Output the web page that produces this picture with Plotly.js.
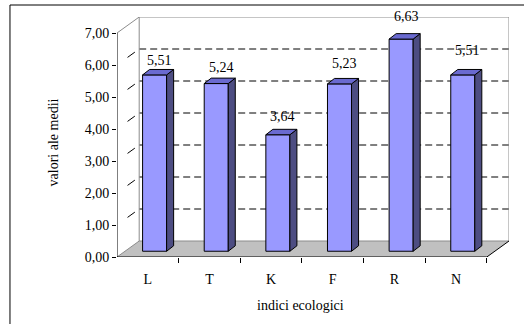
<!DOCTYPE html>
<html><head><meta charset="utf-8">
<script src="https://cdn.plot.ly/plotly-3.0.1.min.js"></script>
<style>html,body{margin:0;padding:0;background:#fff;}#chart{width:524px;height:324px;}</style>
</head><body><div id="chart"></div>
<script>
// ---- data ----
const categories = ['L', 'T', 'K', 'F', 'R', 'N'];
const values = [5.51, 5.24, 3.64, 5.23, 6.63, 5.51];
const valueLabels = ['5,51', '5,24', '3,64', '5,23', '6,63', '5,51'];
const yTickValues = [0, 1, 2, 3, 4, 5, 6, 7];
const yTickLabels = ['0,00', '1,00', '2,00', '3,00', '4,00', '5,00', '6,00', '7,00'];
const xTitle = 'indici ecologici';
const yTitle = 'valori ale medii';

// ---- geometry (pseudo-3D) ----
const DX = 0.36, DY = 0.5;            // wall depth in axis units
const BX = 0.11, BY = 0.18;           // bar front offset into the floor
const BW = 0.39, BDX = 0.114, BDY = 0.17; // bar width and depth
const FONT = '"Liberation Serif", "Times New Roman", serif';
const YMAX = yTickValues[yTickValues.length - 1];
const idx = categories.map((_, i) => i);
const X0 = -0.5, X1 = categories.length - 0.5;

// side faces and top faces
const sx = [], sy = [], tx = [], ty = [];
values.forEach((v, i) => {
  const l = i + BX - BW / 2, r = i + BX + BW / 2, t = BY + v;
  sx.push(r, r + BDX, r + BDX, r, r, null);
  sy.push(BY, BY + BDY, t + BDY, t, BY, null);
  tx.push(l, r, r + BDX, l + BDX, l, null);
  ty.push(t, t, t + BDY, t + BDY, t, null);
});

const traces = [
  {type: 'bar', x: idx.map(i => i + BX), y: values, base: values.map(() => BY), width: BW,
   marker: {color: '#9999ff', line: {color: '#000', width: 1}}, hoverinfo: 'skip', showlegend: false},
  {type: 'scatter', mode: 'lines', x: sx, y: sy, fill: 'toself', fillcolor: '#4d4d82',
   line: {color: '#000', width: 1}, hoverinfo: 'skip', showlegend: false},
  {type: 'scatter', mode: 'lines', x: tx, y: ty, fill: 'toself', fillcolor: '#6a6ad0',
   line: {color: '#000', width: 1}, hoverinfo: 'skip', showlegend: false},
  {type: 'scatter', mode: 'markers', x: idx, y: values, xaxis: 'x2', marker: {opacity: 0},
   hoverinfo: 'skip', showlegend: false}
];

const gray = '#8c8c8c';
const shapes = [];
const ln = (x0, y0, x1, y1, color, layer, dash) => shapes.push({type: 'line', xref: 'x', yref: 'y',
  x0, y0, x1, y1, layer: layer || 'above', line: {color, width: 1, dash: dash || 'solid'}});
// floor
shapes.push({type: 'path', xref: 'x', yref: 'y', layer: 'below',
  path: `M${X0},0 L${X1},0 L${X1 + DX},${DY} L${X0 + DX},${DY} Z`,
  fillcolor: '#c0c0c0', line: {width: 0}});
// back-wall gridlines
yTickValues.slice(1, -1).forEach(k => {
  ln(X0 + DX, k + DY, X1 + DX, k + DY, '#000', 'below', '7px,4px');
  ln(X0, k, X0 + DX, k + DY, '#000', 'below', '0px,13px,9px,30px');
});
// walls
ln(X0 + DX, DY, X0 + DX, YMAX + DY, gray, 'below');
ln(X0 + DX, YMAX + DY, X1 + DX, YMAX + DY, gray, 'below');
ln(X1 + DX, DY, X1 + DX, YMAX + DY, gray, 'below');
ln(X0, YMAX, X0 + DX, YMAX + DY, gray, 'below');
ln(X0 + DX, DY, X1 + DX, DY, gray, 'below');
ln(X0, 0, X0 + DX, DY, gray, 'below');
// front axes
ln(X0, 0, X1, 0, '#000');
ln(X1, 0, X1 + DX, DY, '#000');
ln(X0, 0, X0, YMAX, '#000');
// outer frame (top and left)
shapes.push({type: 'line', xref: 'paper', yref: 'paper', x0: -0.273, y0: 1.05, x1: 1.1, y1: 1.05, line: {color: '#000', width: 1}});
shapes.push({type: 'line', xref: 'paper', yref: 'paper', x0: -0.273, y0: 1.05, x1: -0.273, y1: -0.4, line: {color: '#000', width: 1}});

const annotations = values.map((v, i) => ({
  x: i + BX + 0.08, y: BY + v + BDY, xref: 'x', yref: 'y', text: valueLabels[i],
  showarrow: false, yanchor: 'middle', yshift: 9 + 2 * i, font: {family: FONT, size: 14, color: '#000'}
}));
annotations.push({x: 0.467, y: -0.204, xref: 'paper', yref: 'paper', text: xTitle, showarrow: false,
  xanchor: 'center', yanchor: 'middle', font: {family: FONT, size: 14, color: '#000'}});
annotations.push({x: -0.161, y: 0.477, xref: 'paper', yref: 'paper', text: yTitle, showarrow: false,
  textangle: -90, xanchor: 'center', yanchor: 'middle', font: {family: FONT, size: 14, color: '#000'}});

const layout = {
  width: 524, height: 324,
  margin: {l: 117, r: 15, t: 17, b: 67, pad: 0},
  paper_bgcolor: '#fff', plot_bgcolor: 'rgba(0,0,0,0)',
  showlegend: false,
  font: {family: FONT, size: 14, color: '#000'},
  xaxis: {range: [X0, X1 + DX], tickvals: idx, ticktext: categories, ticks: 'outside', ticklen: 9,
    tickcolor: 'rgba(0,0,0,0)', showgrid: false, zeroline: false, showline: false, fixedrange: true,
    tickfont: {family: FONT, size: 14, color: '#000'}},
  xaxis2: {overlaying: 'x', anchor: 'y', side: 'bottom', range: [X0, X1 + DX],
    tickvals: idx.map(i => i + 0.5), ticks: 'outside', ticklen: 5, tickcolor: '#000', tickwidth: 1,
    showticklabels: false, showgrid: false, zeroline: false, showline: false},
  yaxis: {range: [0, YMAX + DY], tickvals: yTickValues, ticktext: yTickLabels, ticks: 'outside',
    ticklen: 4, tickcolor: '#000', tickwidth: 1, showgrid: false, zeroline: false, showline: false,
    tickfont: {family: FONT, size: 14, color: '#000'}},
  shapes, annotations
};
Plotly.newPlot('chart', traces, layout, {staticPlot: true, displayModeBar: false});
</script>
</body></html>
